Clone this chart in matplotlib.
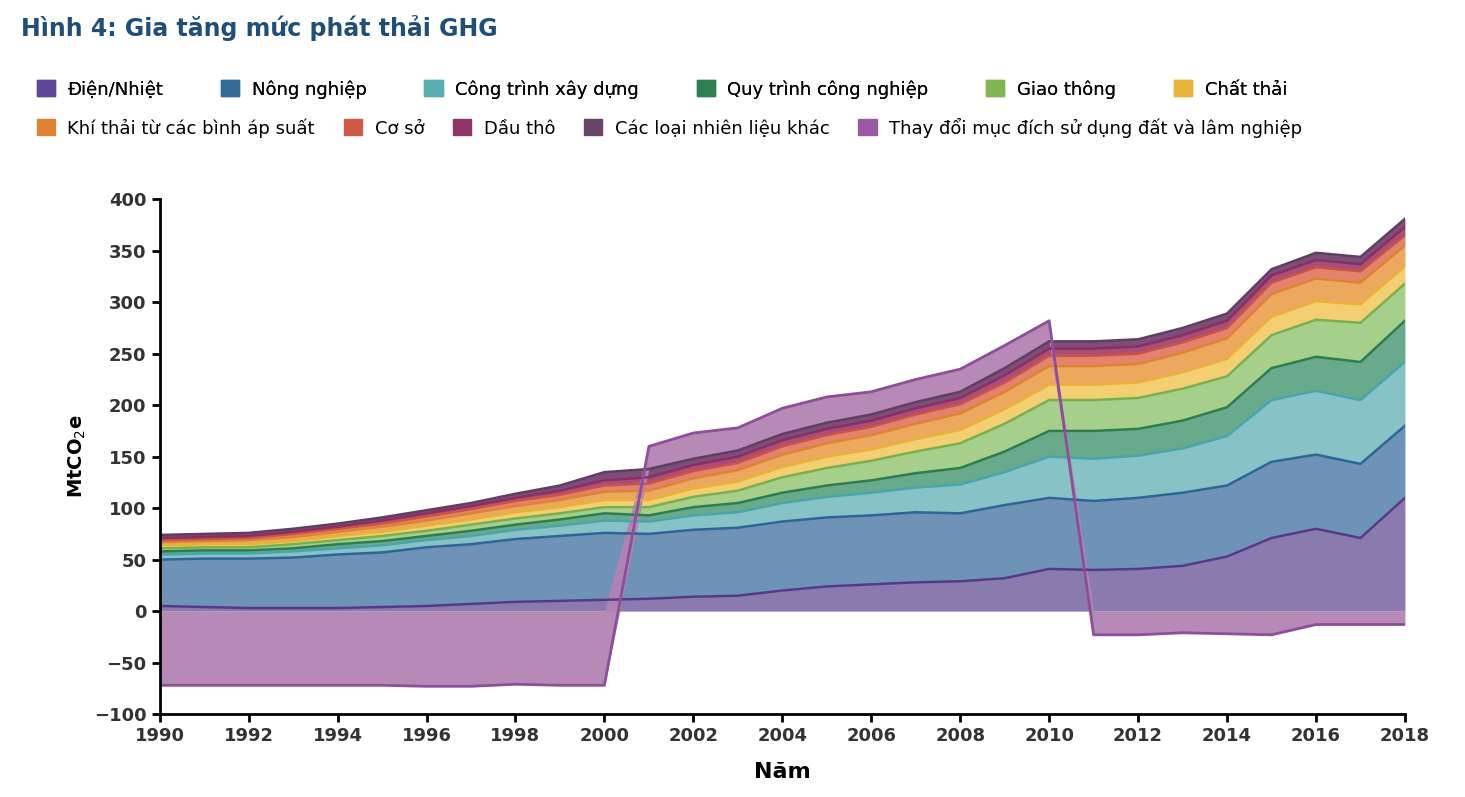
import numpy as np
import matplotlib.pyplot as plt
from matplotlib.patches import Patch

years = np.arange(1990, 2019)

# MtCO2e per sector
dien_nhiet = [5, 4, 3, 3, 3, 4, 5, 7, 9, 10, 11, 12, 14, 15, 20, 24, 26, 28, 29, 32, 41, 40, 41, 44, 53, 71, 80, 71, 110]
nong_nghiep = [45, 47, 48, 49, 52, 53, 57, 58, 61, 63, 65, 63, 65, 66, 67, 67, 67, 68, 66, 71, 69, 67, 69, 71, 69, 74, 72, 72, 70]
cong_trinh = [5, 5, 5, 6, 6, 7, 7, 8, 9, 10, 12, 12, 14, 15, 18, 20, 22, 24, 28, 32, 40, 41, 41, 43, 48, 60, 62, 62, 62]
cong_nghiep = [3, 3, 3, 3, 4, 4, 4, 5, 5, 6, 7, 6, 8, 9, 10, 11, 12, 14, 16, 20, 25, 27, 26, 27, 28, 31, 33, 37, 40]
giao_thong = [3, 3, 3, 4, 4, 5, 5, 6, 6, 6, 6, 8, 10, 12, 15, 17, 19, 21, 24, 27, 30, 30, 30, 31, 30, 32, 36, 38, 36]
chat_thai = [3, 3, 3, 3, 4, 4, 5, 5, 6, 6, 7, 7, 8, 9, 10, 11, 11, 12, 13, 14, 15, 15, 15, 16, 17, 18, 18, 18, 17]
binh_ap_suat = [3, 3, 4, 4, 4, 5, 5, 6, 6, 7, 8, 9, 10, 11, 12, 13, 14, 15, 16, 17, 18, 18, 18, 19, 20, 22, 22, 21, 20]
co_so = [2, 2, 2, 3, 3, 3, 4, 4, 5, 5, 6, 7, 7, 7, 8, 8, 8, 9, 9, 9, 10, 10, 10, 10, 10, 11, 11, 11, 10]
dau_tho = [2, 2, 2, 2, 2, 3, 3, 3, 3, 4, 5, 6, 6, 6, 6, 6, 6, 6, 6, 7, 7, 7, 7, 7, 7, 7, 7, 7, 8]
nhien_lieu_khac = [3, 3, 3, 3, 3, 3, 3, 3, 4, 5, 8, 8, 6, 6, 6, 6, 6, 6, 6, 7, 7, 7, 7, 7, 7, 6, 7, 7, 8]
lucf = [-72, -72, -72, -72, -72, -72, -73, -73, -71, -72, -72, 22, 25, 22, 25, 25, 22, 22, 22, 22, 20,
        -23, -23, -21, -22, -23, -13, -13, -13]

labels = ['Điện/Nhiệt', 'Nông nghiệp', 'Công trình xây dựng', 'Quy trình công nghiệp', 'Giao thông',
          'Chất thải', 'Khí thải từ các bình áp suất', 'Cơ sở', 'Dầu thô', 'Các loại nhiên liệu khác',
          'Thay đổi mục đích sử dụng đất và lâm nghiệp']
series = [dien_nhiet, nong_nghiep, cong_trinh, cong_nghiep, giao_thong, chat_thai,
          binh_ap_suat, co_so, dau_tho, nhien_lieu_khac]
fills = ['#8a7aad', '#6f93b6', '#86c2c6', '#6aaa8c', '#a5cf8a', '#f3cf72', '#eca85e', '#e4836d',
         '#a94d7b', '#7c4f78', '#b283b3']
edges = ['#553a8c', '#2f6496', '#4aa5aa', '#2e7d4f', '#78b04f', '#e8b238', '#dd8331', '#c95441',
         '#8b2e62', '#603d64', '#8d4e9a']
legend_cols = ['#5e4796', '#336c98', '#5aaeb0', '#2f7f55', '#80b651', '#e8b33a', '#dd8331',
               '#cc5a47', '#8e3466', '#694469', '#9a5aa3']

fig = plt.figure(figsize=(14.65, 7.97), dpi=100)
ax = fig.add_axes([0.109, 0.104, 0.85, 0.646])

base = np.zeros(len(years))
for vals, fc, ec in zip(series, fills, edges):
    top = base + np.array(vals)
    ax.fill_between(years, base, top, color=fc, lw=0)
    ax.plot(years, top, color=ec, lw=1.8)
    base = top

lv = np.array(lucf)
lower = np.where(lv < 0, lv, base)
upper = np.where(lv < 0, 0, base + lv)
ax.fill_between(years, lower, upper, color=fills[10], lw=0, alpha=0.95)
outer = np.where(lv < 0, lv, base + lv)
ax.plot(years, outer, color=edges[10], lw=2)

ax.set_xlim(1990, 2018)
ax.set_ylim(-100, 400)
ax.set_xticks(range(1990, 2019, 2))
ax.set_yticks(range(-100, 401, 50))
for s in ['top', 'right']:
    ax.spines[s].set_visible(False)
for s in ['left', 'bottom']:
    ax.spines[s].set_linewidth(2)
ax.tick_params(width=2, length=6, labelsize=13)
for t in ax.get_xticklabels() + ax.get_yticklabels():
    t.set_fontweight('bold')
    t.set_color('#333333')
ax.set_xlabel('Năm', fontsize=16, fontweight='bold', labelpad=12)
ax.set_ylabel('MtCO$_2$e', fontsize=14, fontweight='bold')

fig.text(0.014, 0.965, 'Hình 4: Gia tăng mức phát thải GHG', fontsize=17, fontweight='bold',
         color='#1f4e79', va='center')

h = [Patch(color=c) for c in legend_cols]
leg1 = fig.legend(h[:6], labels[:6], loc='center left', bbox_to_anchor=(0.014, 0.888), ncol=6,
                  frameon=False, fontsize=13, handlelength=1, handleheight=1, columnspacing=3.2,
                  handletextpad=0.7)
fig.legend(h[6:], labels[6:], loc='center left', bbox_to_anchor=(0.014, 0.84), ncol=5,
           frameon=False, fontsize=13, handlelength=1, handleheight=1, columnspacing=1.6,
           handletextpad=0.7)
fig.add_artist(leg1)

fig.savefig('out.png', dpi=100)
